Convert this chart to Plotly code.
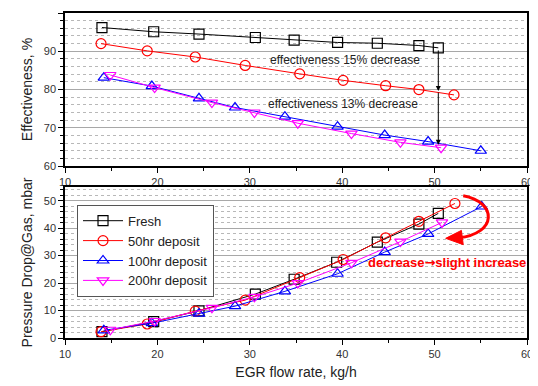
import plotly.graph_objects as go
from plotly.subplots import make_subplots

# ---- data ----
series_names = ["Fresh", "50hr deposit", "100hr deposit", "200hr deposit"]

eff_fresh_x = [14.0, 19.6, 24.5, 30.6, 34.8, 39.5, 43.8, 48.3, 50.4]
eff_fresh_y = [96.2, 95.1, 94.5, 93.6, 92.9, 92.3, 92.1, 91.5, 90.9]
eff_50_x = [13.9, 18.9, 24.1, 29.5, 35.4, 40.1, 44.7, 48.3, 52.1]
eff_50_y = [92.0, 90.1, 88.5, 86.3, 84.1, 82.4, 81.0, 80.0, 78.6]
eff_100_x = [14.2, 19.4, 24.5, 28.4, 33.8, 39.5, 44.6, 49.3, 55.0]
eff_100_y = [83.1, 80.9, 77.7, 75.3, 72.9, 70.3, 68.1, 66.4, 64.0]
eff_200_x = [14.9, 19.7, 25.9, 30.5, 35.2, 41.0, 46.3, 50.7]
eff_200_y = [83.8, 80.5, 76.6, 74.0, 71.2, 68.5, 66.2, 64.8]

dp_fresh_x = [14.0, 19.6, 24.5, 30.6, 34.8, 39.4, 43.8, 48.3, 50.4]
dp_fresh_y = [2.3, 6.0, 9.9, 16.0, 21.4, 27.6, 34.9, 41.5, 45.4]
dp_50_x = [13.9, 18.9, 24.1, 29.5, 35.4, 40.1, 44.7, 48.3, 52.2]
dp_50_y = [2.3, 5.1, 9.8, 13.8, 22.0, 28.6, 36.5, 42.5, 49.0]
dp_100_x = [14.2, 19.4, 24.5, 28.4, 33.8, 39.5, 44.6, 49.3, 55.1]
dp_100_y = [2.8, 5.4, 8.9, 11.6, 17.0, 23.4, 31.3, 37.9, 47.9]
dp_200_x = [14.9, 19.7, 25.9, 30.5, 35.2, 41.0, 46.3, 50.8]
dp_200_y = [3.0, 6.2, 11.0, 15.0, 20.0, 27.4, 35.1, 42.1]

x_ticks = [10, 20, 30, 40, 50, 60]
eff_ticks = [60, 70, 80, 90, 100]
dp_ticks = [0, 10, 20, 30, 40, 50]

colors = ["#000000", "#FF0000", "#0000FF", "#FF00FF"]
symbols = ["square-open", "circle-open", "triangle-up-open", "triangle-down-open"]

FONT = "Liberation Sans, Arial, sans-serif"

fig = make_subplots(rows=2, cols=1, shared_xaxes=False, vertical_spacing=0.0)

eff = [(eff_fresh_x, eff_fresh_y), (eff_50_x, eff_50_y), (eff_100_x, eff_100_y), (eff_200_x, eff_200_y)]
dp = [(dp_fresh_x, dp_fresh_y), (dp_50_x, dp_50_y), (dp_100_x, dp_100_y), (dp_200_x, dp_200_y)]

for i, name in enumerate(series_names):
    fig.add_trace(go.Scatter(x=eff[i][0], y=eff[i][1], mode="lines+markers", name=name,
                             showlegend=False,
                             line=dict(color=colors[i], width=1),
                             marker=dict(symbol=symbols[i], size=10, color=colors[i],
                                         line=dict(width=1.2, color=colors[i]))),
                  row=1, col=1)
    fig.add_trace(go.Scatter(x=dp[i][0], y=dp[i][1], mode="lines+markers", name=name,
                             line=dict(color=colors[i], width=1),
                             marker=dict(symbol=symbols[i], size=10, color=colors[i],
                                         line=dict(width=1.2, color=colors[i]))),
                  row=2, col=1)

axis_common = dict(showline=True, linecolor="black", linewidth=1.5, mirror=True,
                   ticks="outside", ticklen=5, tickwidth=1.2, tickcolor="black",
                   tickfont=dict(family=FONT, size=11, color="#333333"),
                   zeroline=False, automargin=False)

fig.update_xaxes(range=[10, 60], tickvals=x_ticks, showgrid=False,
                 minor=dict(dtick=5, ticks="outside", ticklen=3, tickcolor="black"),
                 **axis_common)
fig.update_xaxes(title=dict(text="EGR flow rate, kg/h", font=dict(family=FONT, size=14, color="#222222"),
                            standoff=8), row=2, col=1)

fig.update_yaxes(range=[60, 100], tickvals=eff_ticks, showgrid=True, gridcolor="#A8A8A8", gridwidth=1,
                 minor=dict(dtick=2, showgrid=True, griddash="dot", gridcolor="#B8B8B8", gridwidth=1,
                            ticks="outside", ticklen=3, tickcolor="black"),
                 title=dict(text="Effectiveness, %", font=dict(family=FONT, size=14, color="#222222"),
                            standoff=8),
                 row=1, col=1, **axis_common)
fig.update_yaxes(range=[0, 55], tickvals=dp_ticks, showgrid=True, gridcolor="#A8A8A8", gridwidth=1,
                 minor=dict(dtick=2, showgrid=True, griddash="dot", gridcolor="#B8B8B8", gridwidth=1,
                            ticks="outside", ticklen=3, tickcolor="black"),
                 title=dict(text="Pressure Drop@Gas, mbar", font=dict(family=FONT, size=14, color="#222222"),
                            standoff=8),
                 row=2, col=1, **axis_common)

fig.update_layout(
    width=530, height=378,
    margin=dict(l=57, r=11, t=5, b=48),
    paper_bgcolor="white", plot_bgcolor="white",
    yaxis=dict(domain=[0.529, 1.0]),
    yaxis2=dict(domain=[0.0, 0.4646]),
    legend=dict(x=0.026, y=0.41, xanchor="left", yanchor="top",
                bgcolor="white", bordercolor="#555555", borderwidth=1,
                font=dict(family=FONT, size=13, color="#222222"),
                tracegroupgap=0, itemwidth=40),
    font=dict(family=FONT),
)

# annotations top
fig.add_annotation(x=40.3, y=87.7, xref="x", yref="y", text="effectiveness 15% decrease",
                   showarrow=False, font=dict(family=FONT, size=12, color="#222222"))
fig.add_annotation(x=40.1, y=76.2, xref="x", yref="y", text="effectiveness 13% decrease",
                   showarrow=False, font=dict(family=FONT, size=12, color="#222222"))
# vertical arrows
fig.add_annotation(x=50.4, y=79.6, ax=50.4, ay=90.6, xref="x", yref="y", axref="x", ayref="y",
                   showarrow=True, arrowhead=2, arrowsize=1, arrowwidth=1, arrowcolor="black", text="")
fig.add_annotation(x=50.4, y=65.6, ax=50.4, ay=79.6, xref="x", yref="y", axref="x", ayref="y",
                   showarrow=True, arrowhead=2, arrowsize=1, arrowwidth=1, arrowcolor="black", text="")

# bottom annotation
fig.add_annotation(x=51.3, y=27.5, xref="x2", yref="y2",
                   text="<b>decrease<span style='font-family:DejaVu Sans'>\u2192</span>slight increase</b>",
                   showarrow=False, font=dict(family=FONT, size=13, color="#FF0000"))
# curved red arrow
fig.add_shape(type="path", xref="x2", yref="y2",
              path="M 53.1,51.8 C 56.8,49.5 56.8,38 52.6,36.5",
              line=dict(color="#FF0000", width=3))
fig.add_shape(type="path", xref="x2", yref="y2",
              path="M 52.9,39.2 L 51.2,36.3 L 53.1,34.0 Z",
              fillcolor="#FF0000", line=dict(color="#FF0000", width=1))

fig.write_html("out.html")
